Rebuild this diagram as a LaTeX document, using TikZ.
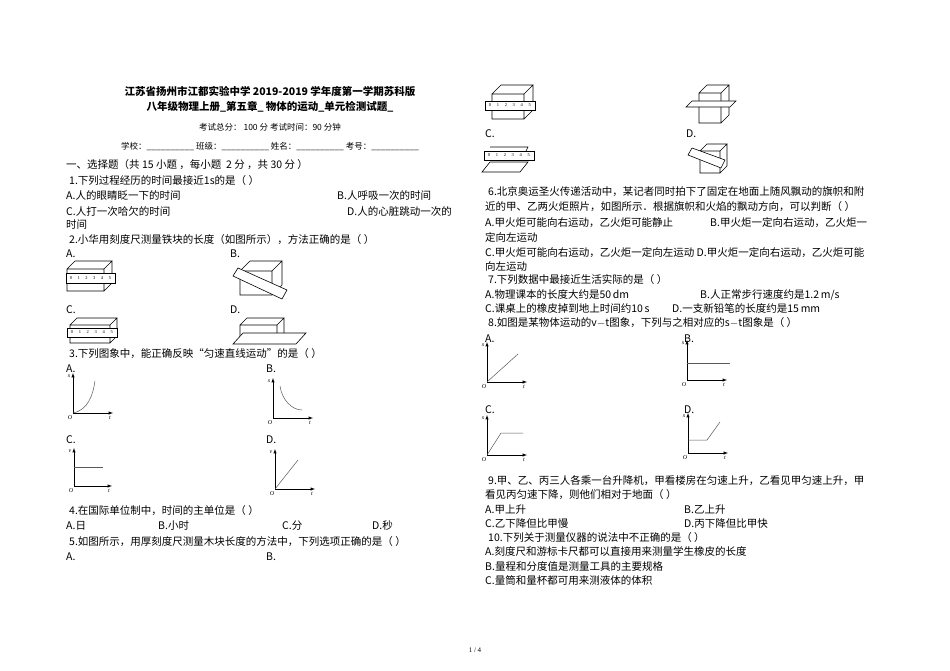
\documentclass[tikz,border=0pt]{standalone}
\usepackage{fontspec}
\setmainfont{Liberation Serif}
\newfontfamily\cjk{Noto Sans CJK SC}
\begin{document}
\begin{tikzpicture}[x=1pt,y=-1pt,
  t/.style={anchor=base west,inner sep=0pt,font=\fontsize{10.5}{12}\selectfont\cjk},
  tc/.style={anchor=base,inner sep=0pt,font=\fontsize{10.5}{12}\selectfont\cjk},
  ax/.style={-latex,line width=0.5pt},
  cv/.style={line width=0.5pt,gray!70!black},
  lb/.style={inner sep=0pt,font=\fontsize{6}{7}\selectfont\itshape}]
\useasboundingbox[fill=white] (0,0) rectangle (950,671);
\newcommand\axs[4]{% ox oy ylabel size
  \draw[ax] (#1,#2) -- (#1,#2-#4);
  \draw[ax] (#1,#2) -- (#1+#4,#2);
  \node[lb] at (#1-4,#2-#4+3) {#3};
  \node[lb] at (#1-3,#2+5) {O};
  \node[lb] at (#1+#4-3,#2+5) {t};}
\newcommand\cube[5]{% x y w h d
  \draw[line width=0.6pt] (#1,#2+#5) rectangle (#1+#3,#2+#5+#4)
   (#1,#2+#5) -- (#1+#5,#2) -- (#1+#3+#5,#2) -- (#1+#3,#2+#5)
   (#1+#3+#5,#2) -- (#1+#3+#5,#2+#4) -- (#1+#3,#2+#5+#4);}
\newcommand\ruler[4]{% x y w h
  \draw[line width=0.6pt,fill=white] (#1,#2) rectangle (#1+#3,#2+#4);
  \foreach \k in {0,...,5}{\node[inner sep=0pt,font=\fontsize{4.5}{5}\selectfont] at (#1+5+\k*#3/6.3,#2+#4/2) {\k};}}
% ---------- left column
\node[tc,font=\fontsize{10.5}{12}\selectfont\cjk\bfseries] (t1) at (270,96) {江苏省扬州市江都实验中学 2019-2019 学年度第一学期苏科版};
\node[tc,font=\fontsize{10.5}{12}\selectfont\cjk\bfseries] (t2) at (270,111) {八年级物理上册\_第五章\_ 物体的运动\_单元检测试题\_};
\node[tc,font=\fontsize{8.5}{10}\selectfont\cjk] (t3) at (270,131) {考试总分： 100 分 考试时间：90 分钟};
\node[tc,font=\fontsize{8.5}{10}\selectfont\cjk] (t4) at (270,150) {学校：\_\_\_\_\_\_\_\_\_\_ 班级：\_\_\_\_\_\_\_\_\_\_ 姓名：\_\_\_\_\_\_\_\_\_\_ 考号：\_\_\_\_\_\_\_\_\_\_};
\node[t] (s1) at (66,169) {一、选择题（共 15 小题 ，每小题 \ 2 分 ，共 30 分 ）};
\node[t] (q1) at (69,185) {1.下列过程经历的时间最接近1s的是（ ）};
\node[t] (q1a) at (66,200) {A.人的眼睛眨一下的时间};
\node[t] (q1b) at (337,200) {B.人呼吸一次的时间};
\node[t] (q1c) at (66,215) {C.人打一次哈欠的时间};
\node[t] (q1d) at (347,215) {D.人的心脏跳动一次的};
\node[t] (q1e) at (66,229) {时间};
\node[t] (q2) at (69,243) {2.小华用刻度尺测量铁块的长度（如图所示），方法正确的是（ ）};
\node[t] (q2a) at (66,257) {A.};
\node[t] (q2b) at (230,257) {B.};
\cube{67}{261}{37}{22}{8}\ruler{66}{273}{49}{10}
\cube{240}{261}{32}{24}{10}
\draw[line width=0.6pt,fill=white] (233,276) -- (238,268) -- (287,290) -- (282,299) -- cycle;
\node[t] (q2c) at (66,313) {C.};
\node[t] (q2d) at (230,313) {D.};
\cube{70}{318}{40}{18}{7}\ruler{67}{328}{50}{9}
\cube{240}{318}{37}{17}{7}
\draw[line width=0.6pt,fill=white] (233,344) -- (243,333) -- (306,333) -- (296,344) -- cycle;
\node[t] (q3) at (69,357) {3.下列图象中，能正确反映“匀速直线运动”的是（ ）};
\node[t] (q3a) at (66,372) {A.};
\node[t] (q3b) at (266,372) {B.};
\axs{73}{413}{s}{40}\draw[cv] (73,413) .. controls (88,410) and (93,395) .. (95,381);
\axs{273}{418}{s}{40}\draw[cv] (280,386) .. controls (282,400) and (292,410) .. (302,410);
\node[t] (q3c) at (66,443) {C.};
\node[t] (q3d) at (266,443) {D.};
\axs{74}{486}{v}{38}\draw[cv] (74,467) -- (103,467);
\axs{275}{489}{v}{40}\draw[cv] (275,489) -- (298,460);
\node[t] (q4) at (69,514) {4.在国际单位制中，时间的主单位是（ ）};
\node[t] (q4a) at (66,529) {A.日};
\node[t] (q4b) at (158,529) {B.小时};
\node[t] (q4c) at (282,529) {C.分};
\node[t] (q4d) at (372,529) {D.秒};
\node[t] (q5) at (69,545) {5.如图所示，用厚刻度尺测量木块长度的方法中，下列选项正确的是（ ）};
\node[t] (q5a) at (66,560) {A.};
\node[t] (q5b) at (266,560) {B.};
% ---------- right column
\cube{492}{85}{32}{25}{9}\ruler{485}{101}{50}{9}
\cube{699}{85}{22}{30}{8}
\draw[line width=0.6pt,fill=white] (686,107) -- (692,101) -- (736,101) -- (730,107) -- cycle;
\node[t] (r5c) at (485,138) {C.};
\node[t] (r5d) at (686,138) {D.};
\draw[line width=0.6pt] (490,147) -- (528,147) -- (524,155) (490,162) -- (528,162) -- (520,172) -- (482,172) -- (490,162);
\ruler{484}{151}{50}{9}
\cube{700}{144}{20}{22}{7}
\draw[line width=0.6pt,fill=white] (688,155) -- (692,148) -- (725,160) -- (721,168) -- cycle;
\node[t] (q6) at (488,196) {6.北京奥运圣火传递活动中，某记者同时拍下了固定在地面上随风飘动的旗帜和附};
\node[t] (q6l) at (485,211) {近的甲、乙两火炬照片，如图所示．根据旗帜和火焰的飘动方向，可以判断（ ）};
\node[t] (q6a) at (485,226) {A.甲火炬可能向右运动，乙火炬可能静止};
\node[t] (q6b) at (710,226) {B.甲火炬一定向右运动，乙火炬一};
\node[t] (q6b2) at (485,241) {定向左运动};
\node[t] (q6c) at (485,256) {C.甲火炬可能向右运动，乙火炬一定向左运动 D.甲火炬一定向右运动，乙火炬可能};
\node[t] (q6d2) at (485,270) {向左运动};
\node[t] (q7) at (488,283) {7.下列数据中最接近生活实际的是（ ）};
\node[t] (q7a) at (485,298) {A.物理课本的长度大约是50\,\textit{dm}};
\node[t] (q7b) at (700,298) {B.人正常步行速度约是1.2\,\textit{m/s}};
\node[t] (q7c) at (485,312) {C.课桌上的橡皮掉到地上时间约10\,\textit{s}};
\node[t] (q7d) at (672,312) {D.一支新铅笔的长度约是15\,\textit{mm}};
\node[t] (q8) at (488,326) {8.如图是某物体运动的\textit{v}$-$\textit{t}图象，下列与之相对应的\textit{s}$-$\textit{t}图象是（ ）};
\node[t] (q8a) at (485,342) {A.};
\node[t] (q8b) at (684,342) {B.};
\axs{487}{382}{s}{40}\draw[cv] (487,382) -- (518,354);
\axs{687}{380}{s}{40}\draw[cv] (687,363) -- (730,363);
\node[t] (q8c) at (485,413) {C.};
\node[t] (q8d) at (684,413) {D.};
\axs{487}{455}{s}{40}\draw[cv] (487,455) -- (501,433) -- (523,433);
\axs{688}{453}{s}{40}\draw[cv] (688,440) -- (707,440) -- (720,422);
\node[t] (q9) at (488,484) {9.甲、乙、丙三人各乘一台升降机，甲看楼房在匀速上升，乙看见甲匀速上升，甲};
\node[t] (q9l) at (485,498) {看见丙匀速下降，则他们相对于地面（ ）};
\node[t] (q9a) at (485,513) {A.甲上升};
\node[t] (q9b) at (684,513) {B.乙上升};
\node[t] (q9c) at (485,527) {C.乙下降但比甲慢};
\node[t] (q9d) at (684,527) {D.丙下降但比甲快};
\node[t] (q10) at (488,541) {10.下列关于测量仪器的说法中不正确的是（ ）};
\node[t] (q10a) at (485,555) {A.刻度尺和游标卡尺都可以直接用来测量学生橡皮的长度};
\node[t] (q10b) at (485,570) {B.量程和分度值是测量工具的主要规格};
\node[t] (q10c) at (485,584) {C.量筒和量杯都可用来测液体的体积};
\node[tc,font=\fontsize{7}{8}\selectfont] (pg) at (475,652) {1 / 4};
\end{tikzpicture}
\end{document}
